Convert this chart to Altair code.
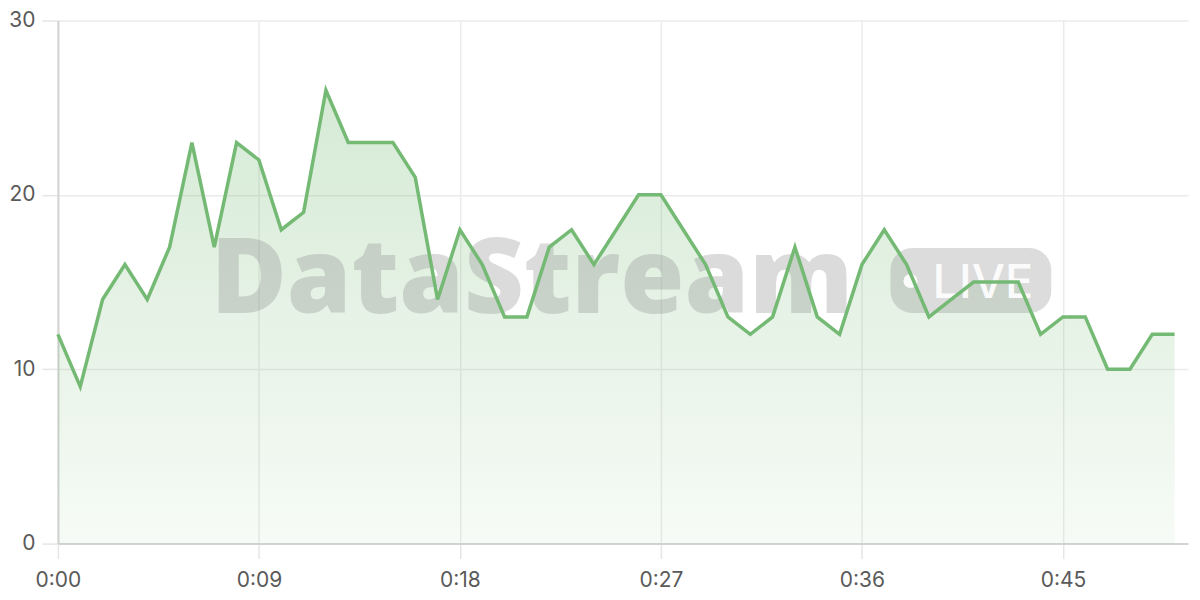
import altair as alt
import pandas as pd

seconds = list(range(0, 51))
values = [12, 9, 14, 16, 14, 17, 23, 17, 23, 22,
          18, 19, 26, 23, 23, 23, 21, 14, 18, 16,
          13, 13, 17, 18, 16, 18, 20, 20, 18, 16,
          13, 12, 13, 17, 13, 12, 16, 18, 16, 13,
          14, 15, 15, 15, 12, 13, 13, 10, 10, 12,
          12]
x_ticks = [0, 9, 18, 27, 36, 45]
y_ticks = [0, 10, 20, 30]

df = pd.DataFrame({"t": seconds, "v": values})

GREEN = "#74b974"
W, H = 1132, 524

x_enc = alt.X("t:Q",
              scale=alt.Scale(domain=[0, 50.6], nice=False, zero=False),
              axis=alt.Axis(values=x_ticks, title=None, labelFlush=False,
                            labelExpr="floor(datum.value/60) + ':' + (datum.value % 60 < 10 ? '0' : '') + (datum.value % 60)",
                            labelFont="Inter", labelFontSize=21, labelColor="#5a5a5a",
                            labelPadding=11, tickSize=15, tickColor="#e6e6e6", tickWidth=1.5,
                            domainColor="#d3d3d3", domainWidth=2,
                            gridColor="#ebebeb", gridWidth=1.5))
y_enc = alt.Y("v:Q",
              scale=alt.Scale(domain=[0, 30], nice=False),
              axis=alt.Axis(values=y_ticks, title=None, labelFlush=False,
                            labelFont="Inter", labelFontSize=21, labelColor="#5a5a5a",
                            labelPadding=7, tickSize=16, tickColor="#e6e6e6", tickWidth=1.5,
                            domainColor="#d3d3d3", domainWidth=2,
                            gridColor="#ebebeb", gridWidth=1.5))

base = alt.Chart(df)

area = base.mark_area(
    interpolate="linear",
    color=alt.Gradient(
        gradient="linear",
        x1=1, x2=1, y1=0, y2=1,
        stops=[alt.GradientStop(color="rgba(116,185,116,0.30)", offset=0),
               alt.GradientStop(color="rgba(116,185,116,0.06)", offset=1)],
    ),
).encode(x=x_enc, y=y_enc)

line = base.mark_line(color=GREEN, strokeWidth=3.5, interpolate="linear",
                      strokeJoin="miter").encode(x="t:Q", y="v:Q")

wm_df = pd.DataFrame({"label": ["DataStream"]})
wm_text = alt.Chart(wm_df).mark_text(
    font="Open Sans", fontWeight=800, fontSize=104, align="left",
    baseline="alphabetic", color="#8a8a8a", opacity=0.3,
).encode(x=alt.value(153), y=alt.value(293), text="label:N")

pill = alt.Chart(wm_df).mark_rect(
    color="#8a8a8a", opacity=0.30, cornerRadius=22,
).encode(x=alt.value(834), x2=alt.value(995), y=alt.value(228), y2=alt.value(293))

dot = alt.Chart(wm_df).mark_circle(
    color="#ffffff", opacity=0.9, size=200,
).encode(x=alt.value(854), y=alt.value(261))

live_df = pd.DataFrame({"label": ["LIVE"]})
live = alt.Chart(live_df).mark_text(
    font="Inter", fontWeight=500, fontSize=47, align="left", baseline="alphabetic",
    color="#ffffff", opacity=0.9,
).encode(x=alt.value(876), y=alt.value(278), text="label:N")

chart = alt.layer(area, wm_text, pill, dot, live, line).properties(
    width=W, height=H,
    background="#ffffff",
    autosize=alt.AutoSizeParams(type="none"),
    padding={"left": 50, "top": 12, "right": 4, "bottom": 50},
).configure_view(stroke=None)

chart.save("out.html", embed_options={"renderer": "svg", "actions": False})
